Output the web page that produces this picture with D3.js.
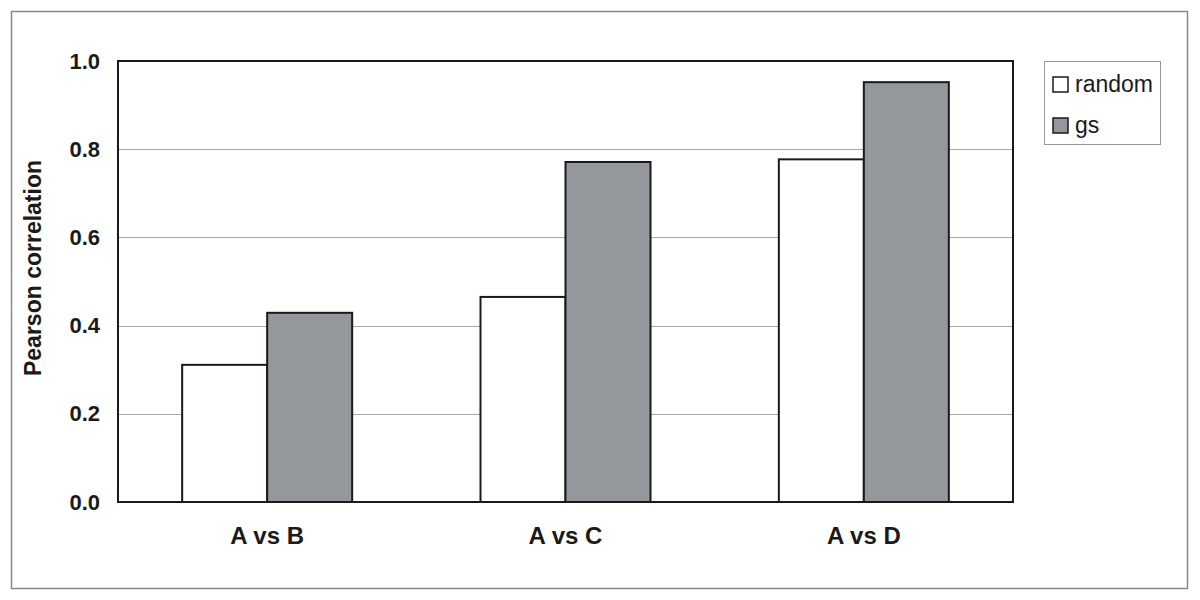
<html>
<head>
<title>Pearson correlation</title>
<style>
  body { margin: 0; background: #fff; }
  text { font-family: "Liberation Sans", Arial, sans-serif; }
</style>
</head>
<body>
<script src="https://cdn.jsdelivr.net/npm/d3@7"></script>
<script>
var categories = ["A vs B", "A vs C", "A vs D"];
var series = ["random", "gs"];
var randomValues = [0.311, 0.465, 0.777];
var gsValues = [0.429, 0.771, 0.952];
var yTicks = [0.0, 0.2, 0.4, 0.6, 0.8, 1.0];

var width = 1200, height = 600;
var margin = {top: 61, left: 118, right: 187, bottom: 98}; // plot area 118..1013, 61..502
var colors = {random: "#ffffff", gs: "#94979b"};
var font = "'Liberation Sans', Arial, sans-serif";

var svg = d3.select("body").append("svg").attr("width", width).attr("height", height);

// outer frame
svg.append("rect").attr("x", 11.5).attr("y", 11.5).attr("width", 1176).attr("height", 577)
  .attr("fill", "#fff").attr("stroke", "#8a8a8a").attr("stroke-width", 1.5);

var x = d3.scaleBand().domain(categories).range([margin.left, width - margin.right]);
var y = d3.scaleLinear().domain([0, 1]).range([height - margin.bottom, margin.top]);
var barW = 85;
var x1 = d3.scaleBand().domain(series).range([0, barW * 2]);

// gridlines
svg.append("g").selectAll("line").data(yTicks.slice(1, 5)).enter().append("line")
  .attr("x1", margin.left).attr("x2", width - margin.right)
  .attr("y1", function(d){ return Math.round(y(d)) + 0.5; })
  .attr("y2", function(d){ return Math.round(y(d)) + 0.5; })
  .attr("stroke", "#a8a8a8").attr("stroke-width", 1);

// bars
var data = categories.map(function(c, i){ return {cat: c, random: randomValues[i], gs: gsValues[i]}; });
var groups = svg.append("g").selectAll("g").data(data).enter().append("g")
  .attr("transform", function(d){ return "translate(" + (x(d.cat) + x.bandwidth() / 2 - barW) + ",0)"; });
groups.selectAll("rect").data(function(d){ return series.map(function(s){ return {s: s, v: d[s]}; }); })
  .enter().append("rect")
  .attr("x", function(d){ return x1(d.s); })
  .attr("y", function(d){ return y(d.v); })
  .attr("width", x1.bandwidth())
  .attr("height", function(d){ return y(0) - y(d.v); })
  .attr("fill", function(d){ return colors[d.s]; })
  .attr("stroke", "#1a1a1a").attr("stroke-width", 2);

// plot border
svg.append("rect").attr("x", margin.left).attr("y", margin.top)
  .attr("width", width - margin.right - margin.left).attr("height", height - margin.bottom - margin.top)
  .attr("fill", "none").attr("stroke", "#1a1a1a").attr("stroke-width", 2);

// y axis labels
var yAxis = d3.axisLeft(y).tickValues(yTicks).tickFormat(d3.format(".1f")).tickSize(0).tickPadding(18);
var ya = svg.append("g").attr("transform", "translate(" + margin.left + ",0)").call(yAxis)
  .attr("font-size", 22).attr("font-family", font);
ya.select(".domain").remove();
ya.selectAll("text").attr("font-weight", "bold").attr("fill", "#1a1a1a");

// x axis labels
var xAxis = d3.axisBottom(x).tickSize(0).tickPadding(25);
var xa = svg.append("g").attr("transform", "translate(0," + y(0) + ")").call(xAxis)
  .attr("font-size", 24).attr("font-family", font);
xa.select(".domain").remove();
xa.selectAll("text").attr("font-weight", "bold").attr("fill", "#1a1a1a");

// y title
svg.append("text").attr("transform", "translate(41,268) rotate(-90)")
  .attr("text-anchor", "middle").attr("font-size", 23).attr("font-weight", "bold").attr("fill", "#1a1a1a")
  .text("Pearson correlation");

// legend
var lg = svg.append("g").attr("transform", "translate(1044,61)");
lg.append("rect").attr("x", 0.5).attr("y", 0.5).attr("width", 116).attr("height", 83)
  .attr("fill", "#fff").attr("stroke", "#999").attr("stroke-width", 1);
var items = lg.selectAll("g.item").data(series).enter().append("g")
  .attr("transform", function(d, i){ return "translate(9," + (16 + i * 41) + ")"; });
items.append("rect").attr("width", 15).attr("height", 15)
  .attr("fill", function(d){ return colors[d]; }).attr("stroke", "#1a1a1a").attr("stroke-width", 1.5);
items.append("text").attr("x", 22).attr("y", 15).attr("font-size", 23).attr("fill", "#1a1a1a")
  .text(function(d){ return d; });
</script>
</body>
</html>
